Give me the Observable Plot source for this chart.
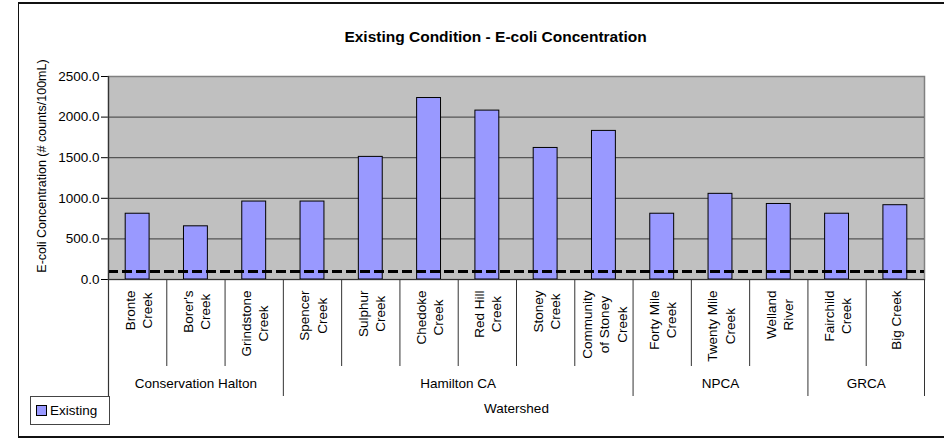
<!DOCTYPE html>
<html><head><meta charset="utf-8">
<script src="https://cdn.jsdelivr.net/npm/d3@7"></script>
<script src="https://cdn.jsdelivr.net/npm/@observablehq/plot@0.6"></script>
<style>
html,body{margin:0;padding:0;background:#fff;}
#wrap{position:relative;width:944px;height:440px;overflow:hidden;font-family:"Liberation Sans",Arial,sans-serif;}
#chart svg{display:block;}
#border{position:absolute;left:18px;top:2px;width:1000px;height:432px;border-top:2px solid #111;border-left:1px solid #111;border-bottom:2px solid #111;pointer-events:none;}
#legend{position:absolute;left:30px;top:396px;width:78px;height:27px;border:1px solid #444;background:#fff;display:flex;align-items:center;font-size:13.5px;color:#000;}
#legend .sw{width:9px;height:9px;background:#9999ff;border:1px solid #000;margin:0 3px 0 5px;}
</style></head><body>
<div id="wrap"><div id="chart"></div><div id="border"></div><div id="legend"><span class="sw"></span><span id="legtext"></span></div></div>
<script>
const categories = ["Bronte\nCreek", "Borer's\nCreek", "Grindstone\nCreek", "Spencer\nCreek", "Sulphur\nCreek", "Chedoke\nCreek", "Red Hill\nCreek", "Stoney\nCreek", "Community\nof Stoney\nCreek", "Forty Mile\nCreek", "Twenty Mile\nCreek", "Welland\nRiver", "Fairchild\nCreek", "Big Creek"];
const watersheds = ["Conservation Halton", "Conservation Halton", "Conservation Halton", "Hamilton CA", "Hamilton CA", "Hamilton CA", "Hamilton CA", "Hamilton CA", "Hamilton CA", "NPCA", "NPCA", "NPCA", "GRCA", "GRCA"];
const values = [810, 655, 960, 960, 1510, 2235, 2080, 1620, 1830, 810, 1055, 930, 810, 915];
const groupNames = ["Conservation Halton", "Hamilton CA", "NPCA", "GRCA"];
const yTicks = [0, 500, 1000, 1500, 2000, 2500];
const guideline = 100;
const title = "Existing Condition - E-coli Concentration";
const yLabel = "E-coli Concentration (# counts/100mL)";
const xLabel = "Watershed";
const seriesName = "Existing";

document.getElementById("legtext").textContent = seriesName;

const data = categories.map((c, i) => ({name: c, watershed: watersheds[i], value: values[i]}));

const W = 944, H = 440, mL = 108, mR = 20, mT = 76, mB = 161;
const frameH = H - mT - mB;
const step = (W - mL - mR) / categories.length;
const FONT = "Liberation Sans, Arial, sans-serif";
const FS = 13.5;

const ctx = document.createElement("canvas").getContext("2d");
ctx.font = `${FS}px 'Liberation Sans'`;

const labelMarks = categories.map((c) => {
  const lines = c.split("\n");
  const maxW = Math.max(...lines.map(l => ctx.measureText(l).width));
  return Plot.text([c], {x: d => d, text: d => d, frameAnchor: "bottom", rotate: -90, textAnchor: "middle", lineAnchor: "middle", lineHeight: 1.27, dy: 11 + maxW / 2, fontSize: FS, fill: "#000"});
});

const innerB = categories.filter((c, i) => i > 0 && watersheds[i] === watersheds[i - 1]);
const groupB = categories.filter((c, i) => i > 0 && watersheds[i] !== watersheds[i - 1]);

const groupMarks = groupNames.map(g => {
  const idx = categories.map((c, i) => i).filter(i => watersheds[i] === g);
  const n = idx.length;
  const mid = idx[Math.floor((n - 1) / 2)];
  return Plot.text([g], {x: () => categories[mid], text: d => d, frameAnchor: "bottom", dy: 108, dx: n % 2 === 0 ? step / 2 : 0, textAnchor: "middle", fontSize: FS, fill: "#000"});
});

const chart = Plot.plot({
  width: W, height: H,
  marginLeft: mL, marginRight: mR, marginTop: mT, marginBottom: mB,
  style: {fontFamily: FONT, fontSize: FS + "px", color: "#000", background: "transparent"},
  x: {domain: categories, paddingInner: 0.59, paddingOuter: 0.295, axis: null, round: false},
  y: {domain: [0, 2500], ticks: yTicks, tickFormat: d => d.toFixed(1), tickSize: 7, tickPadding: 2, label: null},
  marks: [
    Plot.frame({fill: "#c0c0c0", stroke: "#808080", strokeWidth: 1.5}),
    Plot.ruleY(yTicks.filter(v => v > 0 && v < 2500), {stroke: "#555", strokeWidth: 1.2}),
    Plot.barY(data, {x: "name", y: "value", fill: "#9999ff", stroke: "#000", strokeWidth: 1}),
    Plot.ruleY([guideline], {stroke: "#000", strokeWidth: 3, strokeDasharray: "10,4"}),
    Plot.ruleY([0], {stroke: "#333", strokeWidth: 1.2}),
    Plot.ruleX([categories[0]], {x: d => d, dx: -step / 2, insetBottom: -117, stroke: "#333", strokeWidth: 1.2}),
    Plot.ruleX(innerB, {x: d => d, dx: -step / 2, insetTop: frameH, insetBottom: -87, stroke: "#333"}),
    Plot.ruleX(groupB, {x: d => d, dx: -step / 2, insetTop: frameH, insetBottom: -117, stroke: "#333"}),
    Plot.ruleX([categories[categories.length - 1]], {x: d => d, dx: step / 2, insetTop: frameH, insetBottom: -117, stroke: "#333"}),
    ...labelMarks,
    ...groupMarks,
    Plot.text([xLabel], {text: d => d, frameAnchor: "bottom", dy: 133, textAnchor: "middle", fontSize: FS, fill: "#000"}),
    Plot.text([title], {text: d => d, frameAnchor: "top", dx: -21, dy: -46, textAnchor: "middle", fontSize: 15.5, fontWeight: "bold", fill: "#000"}),
    Plot.text([yLabel], {text: d => d, frameAnchor: "left", rotate: -90, textAnchor: "middle", dx: -67, dy: -12, fontSize: 12.5, fill: "#000"})
  ]
});
document.getElementById("chart").appendChild(chart);
</script>
</body></html>
